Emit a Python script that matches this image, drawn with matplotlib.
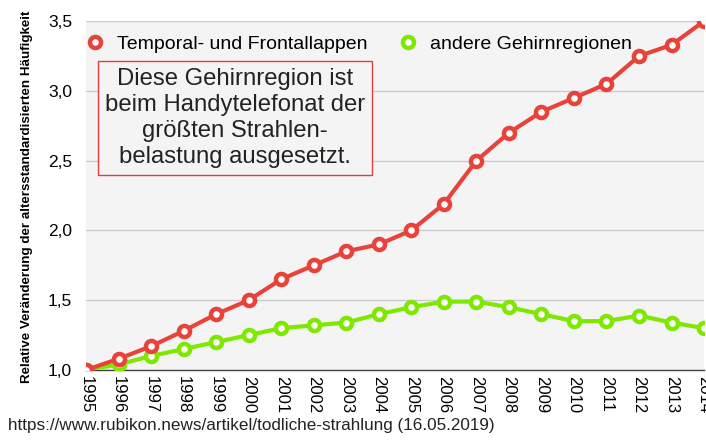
import matplotlib
matplotlib.use("Agg")
import matplotlib.pyplot as plt
from matplotlib.ticker import FuncFormatter

plt.rcParams['font.family'] = ['Liberation Sans', 'DejaVu Sans']

years = list(range(1995, 2015))
temporal = [1.00, 1.08, 1.17, 1.28, 1.40, 1.50, 1.65, 1.75, 1.85, 1.90,
            2.00, 2.19, 2.50, 2.70, 2.85, 2.95, 3.05, 3.25, 3.33, 3.50]
andere = [1.00, 1.04, 1.10, 1.15, 1.20, 1.25, 1.30, 1.32, 1.34, 1.40,
          1.45, 1.49, 1.49, 1.45, 1.40, 1.35, 1.35, 1.39, 1.34, 1.30]
yticks = [1.0, 1.5, 2.0, 2.5, 3.0, 3.5]
series_labels = ["Temporal- und Frontallappen", "andere Gehirnregionen"]

RED = "#e8433a"
GREEN = "#7fe800"

fig = plt.figure(figsize=(7.06, 4.41), dpi=100)
ax = fig.add_axes([0.1218, 0.161, 0.8755, 0.791])
ax.set_facecolor("#f4f4f4")

for vals, col, lab in [(andere, GREEN, series_labels[1]), (temporal, RED, series_labels[0])]:
    ax.plot(years, vals, color=col, lw=3.0, marker='o', ms=8.0,
            mfc='white', mec=col, mew=3.2, label=lab, zorder=3)

ax.set_xlim(1995, 2014)
ax.set_ylim(1.0, 3.5)
ax.set_yticks(yticks)
ax.yaxis.set_major_formatter(FuncFormatter(lambda v, p: f"{v:.1f}".replace('.', ',')))
ax.set_xticks(years)
ax.set_xticklabels([str(y) for y in years], rotation=270, fontsize=12)
ax.tick_params(axis='y', labelsize=12.5, length=0, pad=10)
ax.tick_params(axis='x', length=0, pad=4)
ax.grid(axis='y', color='#cccccc', lw=1, zorder=0)
for s in ['top', 'right', 'left']:
    ax.spines[s].set_visible(False)
ax.spines['bottom'].set_color('#444444')
ax.spines['bottom'].set_linewidth(1)

ax.set_ylabel("Relative Veränderung der altersstandardisierten Häufigkeit",
              fontsize=9.6, fontweight='bold')
ax.yaxis.set_label_coords(-0.0856, 0.496)

handles, labels = ax.get_legend_handles_labels()
leg = ax.legend(handles[::-1], labels[::-1], loc='upper left', ncol=2, frameon=False,
                fontsize=14, bbox_to_anchor=(-0.008, 0.998), handlelength=0.0,
                handletextpad=1.15, columnspacing=2.07, borderaxespad=0.3)

ax.text(0.241, 0.722, "Diese Gehirnregion ist\nbeim Handytelefonat der\ngrößten Strahlen-\nbelastung ausgesetzt.",
        transform=ax.transAxes, ha='center', va='center', fontsize=17.2,
        color='#222222', linespacing=1.24,
        bbox=dict(boxstyle='square,pad=0.3', fc='#f4f4f4', ec='#e04040', lw=1))

fig.text(0.011, 0.018, "https://www.rubikon.news/artikel/todliche-strahlung (16.05.2019)",
         fontsize=12.3, color='#222222', ha='left', va='bottom')

fig.savefig("out.png", dpi=100)
